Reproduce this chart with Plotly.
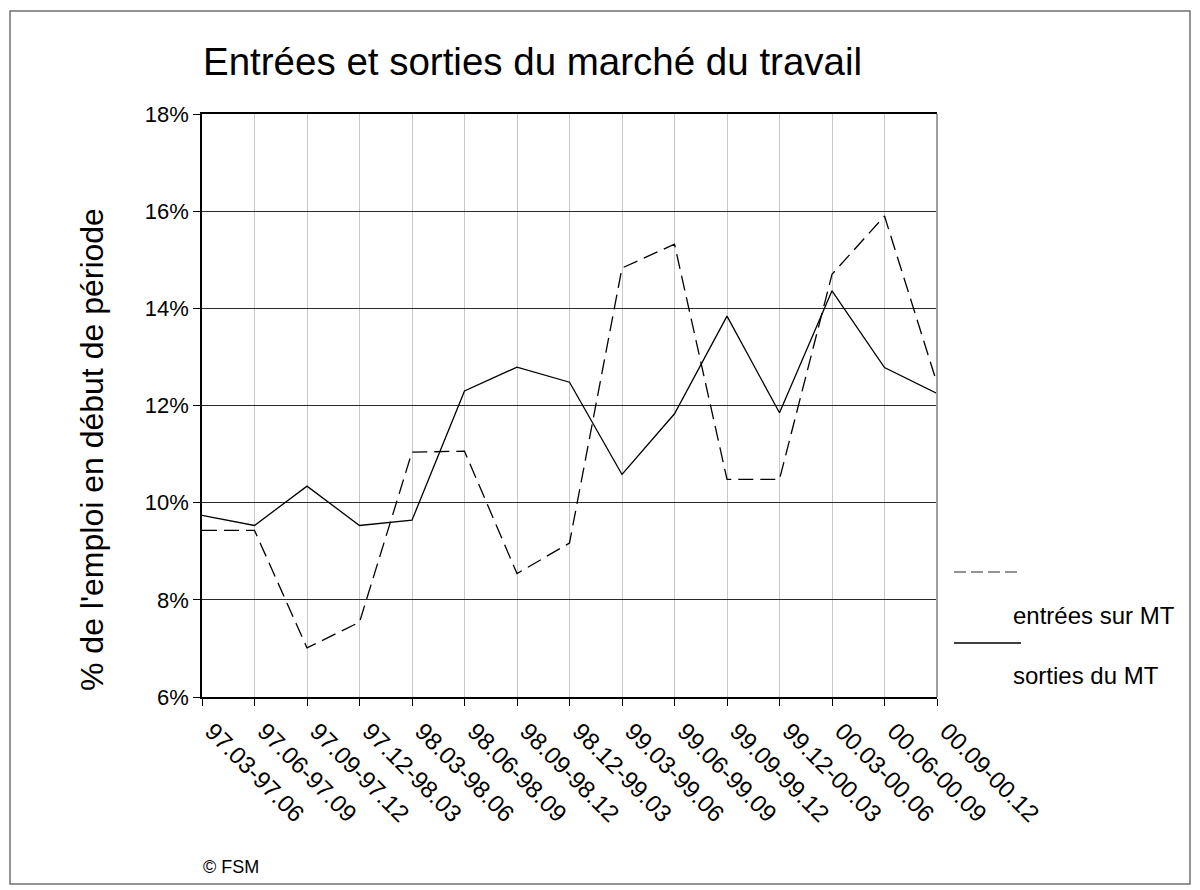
import plotly.graph_objects as go

categories = ["97.03-97.06", "97.06-97.09", "97.09-97.12", "97.12-98.03", "98.03-98.06",
              "98.06-98.09", "98.09-98.12", "98.12-99.03", "99.03-99.06", "99.06-99.09",
              "99.09-99.12", "99.12-00.03", "00.03-00.06", "00.06-00.09", "00.09-00.12"]
entrees = [9.43, 9.43, 7.01, 7.54, 11.04, 11.06, 8.54, 9.17, 14.83, 15.32,
           10.48, 10.48, 14.70, 15.90, 12.46]
sorties = [9.74, 9.53, 10.34, 9.53, 9.64, 12.30, 12.79, 12.48, 10.58, 11.83,
           13.84, 11.85, 14.36, 12.78, 12.25]
y_ticks = [6, 8, 10, 12, 14, 16, 18]
y_ticktext = [f"{v}%" for v in y_ticks]
series_names = ["entrées sur MT", "sorties du MT"]

W, H = 1200, 890
L, R, T, B = 202, 937, 114, 697  # plot area in pixels
FONT = "Liberation Sans, Arial, sans-serif"

def px(x):
    return (x - L) / (R - L)

def py(y):
    return (B - y) / (B - T)

fig = go.Figure()
fig.add_trace(go.Scatter(x=categories, y=entrees, mode="lines", name=series_names[0],
                         line=dict(color="black", width=1.3, dash="15px,7px")))
fig.add_trace(go.Scatter(x=categories, y=sorties, mode="lines", name=series_names[1],
                         line=dict(color="black", width=1.3)))

fig.update_layout(
    width=W, height=H,
    margin=dict(l=L, r=W - R, t=T, b=H - B, pad=0),
    paper_bgcolor="white", plot_bgcolor="white",
    showlegend=False,
    font=dict(family=FONT, color="black", size=22),
    xaxis=dict(type="category", range=[0, len(categories) - 1],
               tickangle=45, ticks="outside", ticklen=7, tickcolor="black",
               ticklabelshift=10, ticklabelstandoff=2,
               showgrid=True, gridcolor="#c8c8c8", gridwidth=1,
               showline=True, linecolor="black", linewidth=1.5, mirror=True,
               tickfont=dict(size=24, family=FONT)),
    yaxis=dict(range=[6, 18], tickvals=y_ticks, ticktext=y_ticktext,
               ticks="outside", ticklen=7, tickcolor="black",
               showgrid=True, gridcolor="#2a2a2a", gridwidth=1.3,
               showline=True, linecolor="black", linewidth=1.5,
               zeroline=False, tickfont=dict(size=22, family=FONT)),
)

# right border of plot area
fig.add_shape(type="line", xref="paper", yref="paper", x0=1, x1=1, y0=0, y1=1,
              line=dict(color="#a0a0a0", width=2))

# outer frame
fig.add_shape(type="rect", xref="paper", yref="paper",
              x0=px(10), x1=px(1190), y0=py(11), y1=py(884),
              line=dict(color="#707070", width=1.5), layer="below")

# title
fig.add_annotation(text="Entrées et sorties du marché du travail", xref="paper", yref="paper",
                   x=px(201), y=py(61), xanchor="left", yanchor="middle", showarrow=False,
                   font=dict(size=38.5, family=FONT, color="black"))

# y axis title
fig.add_annotation(text="% de l'emploi en début de période", xref="paper", yref="paper",
                   x=px(92), y=py(450), xanchor="center", yanchor="middle", showarrow=False,
                   textangle=-90, font=dict(size=32, family=FONT, color="black"))

# legend (manual, mimicking wrapped layout)
fig.add_shape(type="line", xref="paper", yref="paper", x0=px(954), x1=px(1021),
              y0=py(572), y1=py(572), line=dict(color="#707070", width=1.5, dash="12px,5px"))
fig.add_annotation(text=series_names[0], xref="paper", yref="paper",
                   x=px(1011), y=py(615), xanchor="left", yanchor="middle", showarrow=False,
                   font=dict(size=24, family=FONT, color="black"))
fig.add_shape(type="line", xref="paper", yref="paper", x0=px(954), x1=px(1021),
              y0=py(643), y1=py(643), line=dict(color="black", width=1.5))
fig.add_annotation(text=series_names[1], xref="paper", yref="paper",
                   x=px(1011), y=py(675), xanchor="left", yanchor="middle", showarrow=False,
                   font=dict(size=24, family=FONT, color="black"))

# copyright
fig.add_annotation(text="© FSM", xref="paper", yref="paper",
                   x=px(201), y=py(867), xanchor="left", yanchor="middle", showarrow=False,
                   font=dict(size=18, family=FONT, color="black"))

fig.write_html("out.html", config={"displayModeBar": False},
               post_script="document.body.style.margin='0px';document.body.style.overflow='hidden';")
